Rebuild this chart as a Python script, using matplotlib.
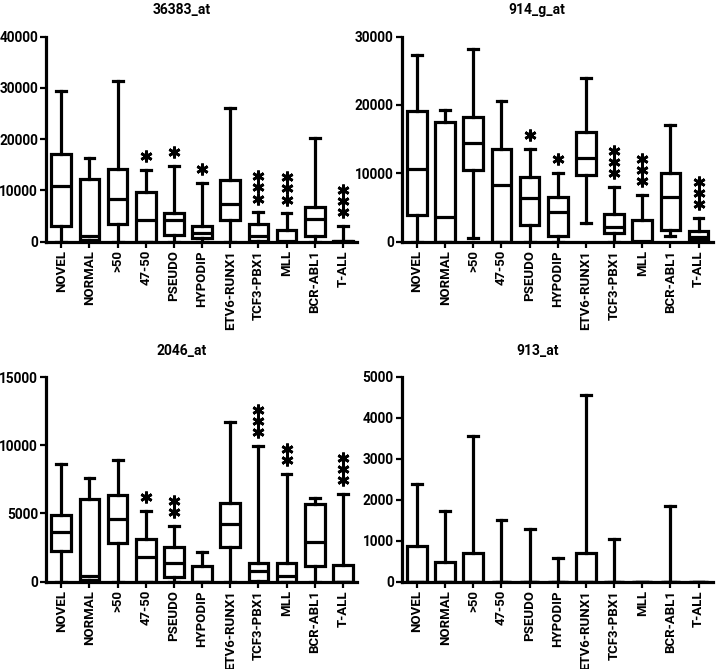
import matplotlib
matplotlib.use("Agg")
import matplotlib.pyplot as plt
from matplotlib.transforms import offset_copy

plt.rcParams['font.family'] = ['Roboto', 'DejaVu Sans']
plt.rcParams['font.weight'] = 'bold'

categories = ["NOVEL", "NORMAL", ">50", "47-50", "PSEUDO", "HYPODIP",
              "ETV6-RUNX1", "TCF3-PBX1", "MLL", "BCR-ABL1", "T-ALL"]

# 36383_at
p1_hi = [29400, 16400, 31400, 14000, 14800, 11400, 26000, 5700, 5500, 20300, 3100]
p1_q3 = [17100, 12200, 14200, 9600, 5600, 3000, 12000, 3400, 2300, 6800, 100]
p1_med = [10900, 1200, 8400, 4300, 4200, 1600, 7400, 1200, 100, 4400, 50]
p1_q1 = [3000, 300, 3500, 0, 1300, 800, 4300, 200, 0, 1200, 0]
p1_lo = [0, 0, 0, 0, 0, 0, 0, 0, 0, 0, 0]
p1_sig = ["", "", "", "*", "*", "*", "", "***", "***", "", "***"]

# 914_g_at
p2_hi = [27300, 19200, 28100, 20600, 13600, 10100, 24000, 8000, 6800, 17100, 3500]
p2_q3 = [19100, 17500, 18200, 13500, 9500, 6600, 16100, 4050, 3200, 10000, 1500]
p2_med = [10700, 3600, 14500, 8300, 6400, 4300, 12200, 2100, 100, 6500, 700]
p2_q1 = [3950, 0, 10500, 0, 2400, 800, 9700, 1300, 0, 1700, 250]
p2_lo = [0, 0, 600, 0, 0, 0, 2700, 0, 0, 900, 0]
p2_sig = ["", "", "", "", "*", "*", "", "***", "***", "", "***"]

# 2046_at
p3_hi = [8650, 7570, 8940, 5200, 4100, 2200, 11700, 9940, 7900, 6150, 6400]
p3_q3 = [4900, 6060, 6330, 3100, 2570, 1170, 5800, 1340, 1340, 5700, 1200]
p3_med = [3670, 420, 4620, 1780, 1370, 0, 4200, 780, 440, 2900, 0]
p3_q1 = [2220, 100, 2830, 0, 320, 0, 2540, 50, 0, 1120, 0]
p3_lo = [0, 0, 0, 0, 0, 0, 0, 0, 0, 0, 0]
p3_sig = ["", "", "", "*", "**", "", "", "***", "**", "", "***"]

# 913_at
p4_hi = [2380, 1720, 3550, 1500, 1280, 570, 4560, 1040, 0, 1840, 0]
p4_q3 = [870, 480, 710, 0, 0, 0, 690, 0, 0, 0, 0]
p4_med = [0, 0, 0, 0, 0, 0, 0, 0, 0, 0, 0]
p4_q1 = [0, 0, 0, 0, 0, 0, 0, 0, 0, 0, 0]
p4_lo = [0, 0, 0, 0, 0, 0, 0, 0, 0, 0, 0]
p4_sig = [""] * 11

panels = [
    ("36383_at", p1_hi, p1_q3, p1_med, p1_q1, p1_lo, p1_sig, 40000, 10000),
    ("914_g_at", p2_hi, p2_q3, p2_med, p2_q1, p2_lo, p2_sig, 30000, 10000),
    ("2046_at", p3_hi, p3_q3, p3_med, p3_q1, p3_lo, p3_sig, 15000, 5000),
    ("913_at", p4_hi, p4_q3, p4_med, p4_q1, p4_lo, p4_sig, 5000, 1000),
]

W, H = 718, 669
fig = plt.figure(figsize=(W / 100, H / 100), dpi=100)

# axes rectangles in pixels: left, top, width, height
boxes_px = [(46.4, 36.5, 310.5, 205.2), (402.1, 36.5, 310.5, 205.2),
            (46.4, 377.0, 310.5, 204.7), (402.1, 377.0, 310.5, 204.7)]

lw = 2.3
for (title, hi, q3, med, q1, lo, sig, ymax, step), (l, t, w, h) in zip(panels, boxes_px):
    ax = fig.add_axes([l / W, 1 - (t + h) / H, w / W, h / H])
    stats = []
    for i in range(len(categories)):
        stats.append(dict(med=med[i], q1=q1[i], q3=q3[i],
                          whislo=lo[i], whishi=hi[i], fliers=[]))
    pos = list(range(len(categories)))
    ax.bxp(stats, positions=pos, widths=0.7, showfliers=False,
           patch_artist=True,
           boxprops=dict(facecolor="white", edgecolor="black", linewidth=lw),
           whiskerprops=dict(color="black", linewidth=lw),
           capprops=dict(color="black", linewidth=lw),
           medianprops=dict(color="black", linewidth=lw))

    # significance stars stacked above the upper whisker
    for i, s in enumerate(sig):
        for k in range(len(s)):
            tr = offset_copy(ax.transData, fig=fig, x=0, y=10 + 8 * k, units='points')
            ax.plot([i], [hi[i]], marker=(6, 2, 0), markersize=8.5,
                    markeredgewidth=2.0, color="black", transform=tr,
                    clip_on=False)

    ax.set_xlim(-0.53, 10.5)
    ax.set_ylim(0, ymax)
    ax.set_yticks(range(0, ymax + 1, step))
    ax.set_xticks(pos)
    ax.set_xticklabels(categories, rotation=90, fontsize=9.5, fontweight="bold")
    for lab in ax.get_yticklabels():
        lab.set_fontsize(9.8)
        lab.set_fontweight("bold")
    ax.spines["top"].set_visible(False)
    ax.spines["right"].set_visible(False)
    ax.spines["left"].set_linewidth(lw)
    ax.spines["bottom"].set_linewidth(lw)
    ax.tick_params(axis="both", direction="out", length=4, width=1.6, pad=2)
    ax.text(0.435, 1 + 26.5 / h, title, transform=ax.transAxes,
            ha="center", va="center", fontsize=10, fontweight="bold")

fig.savefig("out.png", dpi=100, facecolor="white")
